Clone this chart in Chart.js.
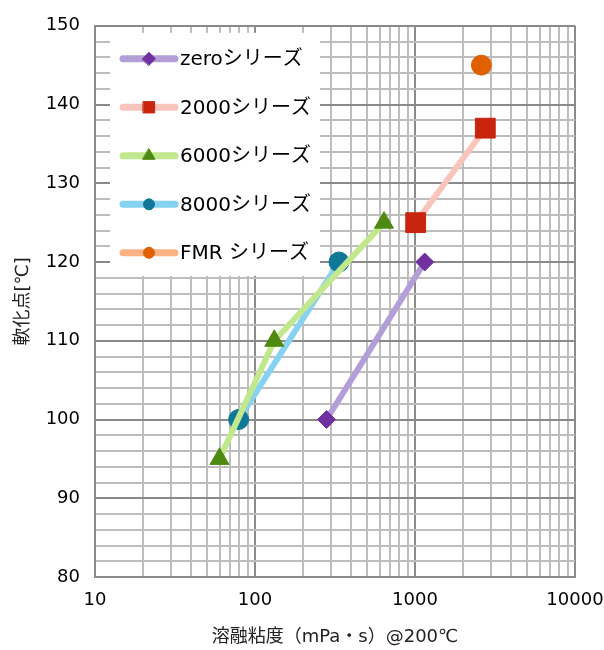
<!DOCTYPE html>
<html>
<head>
<meta charset="utf-8">
<script src="https://cdn.jsdelivr.net/npm/chart.js@4.4.1/dist/chart.umd.min.js"></script>
<style>
  html, body { margin: 0; padding: 0; background: #fff; }
</style>
</head>
<body>
<canvas id="graficoViscosidade" width="604" height="650"></canvas>
<script>
// ---- dados (viscosidade x ponto de amolecimento)

const nomesSeries = ['zeroシリーズ', '2000シリーズ', '6000シリーズ', '8000シリーズ', 'FMR シリーズ'];

const zeroX = [280, 1150];
const zeroY = [100, 120];

const s2000X = [1010, 2750];
const s2000Y = [125, 137];

const s6000X = [60, 132, 640];
const s6000Y = [95, 110, 125];

const s8000X = [79, 335];
const s8000Y = [100, 120];

const fmrX = [2600];
const fmrY = [145];

// ticks do eixo x (log) e rótulos que aparecem
const decadasX = [10, 100, 1000];
const rotulosX = [10, 100, 1000, 10000];

const fonte = "'DejaVu Sans', 'Noto Sans CJK JP', sans-serif";

function pontos(xs, ys) {
    return xs.map((x, i) => ({ x: x, y: ys[i] }));
}

// legenda desenhada dentro da área do gráfico
const legendaNoGrafico = {
    id: 'legendaNoGrafico',
    beforeDatasetsDraw(chart) {
        const ctx = chart.ctx;
        const area = chart.chartArea;
        ctx.save();
        ctx.fillStyle = '#ffffff';
        ctx.fillRect(area.left + 15, area.top + 7, 210, 243);
        chart.data.datasets.forEach((ds, i) => {
            const y = area.top + 33 + i * 48.5;
            const x0 = area.left + 28;
            const x1 = area.left + 80;
            ctx.strokeStyle = ds.borderColor;
            ctx.lineWidth = 7;
            ctx.lineCap = 'round';
            ctx.beginPath();
            ctx.moveTo(x0, y);
            ctx.lineTo(x1, y);
            ctx.stroke();
            ctx.lineWidth = 1;
            ctx.fillStyle = ds.pointBackgroundColor;
            ctx.strokeStyle = ds.pointBackgroundColor;
            Chart.helpers.drawPoint(ctx, {
                pointStyle: ds.pointStyle,
                radius: ds.legendRadius,
                rotation: 0,
                borderWidth: 1
            }, (x0 + x1) / 2, y);
            ctx.fillStyle = '#000000';
            ctx.font = '20px ' + fonte;
            ctx.textBaseline = 'middle';
            ctx.textAlign = 'left';
            ctx.fillText(nomesSeries[i], area.left + 85, y + 1);
        });
        ctx.restore();
    }
};

const ctg = document.getElementById('graficoViscosidade').getContext('2d');

let graficoViscosidade = new Chart(ctg, {
    type: 'line',
    data: {
        datasets: [
            {
                label: nomesSeries[0],
                data: pontos(zeroX, zeroY),
                borderColor: '#b49ed8',
                pointBackgroundColor: '#7030a0',
                pointBorderColor: '#7030a0',
                pointStyle: 'rectRot',
                pointRadius: 9,
                legendRadius: 6.5
            },
            {
                label: nomesSeries[1],
                data: pontos(s2000X, s2000Y),
                borderColor: '#f8c4bc',
                pointBackgroundColor: '#c8240e',
                pointBorderColor: '#c8240e',
                pointStyle: 'rect',
                pointRadius: 14,
                legendRadius: 8
            },
            {
                label: nomesSeries[2],
                data: pontos(s6000X, s6000Y),
                borderColor: '#c2e88e',
                pointBackgroundColor: '#4e8a12',
                pointBorderColor: '#4e8a12',
                pointStyle: 'triangle',
                pointRadius: 11,
                legendRadius: 7
            },
            {
                label: nomesSeries[3],
                data: pontos(s8000X, s8000Y),
                borderColor: '#86d2f0',
                pointBackgroundColor: '#0f7898',
                pointBorderColor: '#0f7898',
                pointStyle: 'circle',
                pointRadius: 10,
                legendRadius: 5.5
            },
            {
                label: nomesSeries[4],
                data: pontos(fmrX, fmrY),
                borderColor: '#fcb282',
                pointBackgroundColor: '#e06000',
                pointBorderColor: '#e06000',
                pointStyle: 'circle',
                pointRadius: 10,
                legendRadius: 5.5
            }
        ].map(ds => Object.assign(ds, {
            borderWidth: 6,
            borderCapStyle: 'round',
            borderJoinStyle: 'round',
            pointBorderWidth: 1,
            fill: false,
            tension: 0
        }))
    },
    plugins: [legendaNoGrafico],
    options: {
        responsive: false,
        animation: false,
        layout: {
            padding: { top: 18, right: 29, left: 0, bottom: 0 }
        },
        plugins: {
            legend: { display: false },
            tooltip: { enabled: false }
        },
        scales: {
            x: {
                type: 'logarithmic',
                min: 10,
                max: 10000,
                afterBuildTicks(scale) {
                    const valores = [];
                    decadasX.forEach(d => {
                        for (let m = 1; m <= 9; m++) valores.push(d * m);
                    });
                    valores.push(10000);
                    scale.ticks = valores.map(v => ({ value: v }));
                },
                afterFit(scale) {
                    scale.height = 73;
                    scale.paddingLeft = 0;
                    scale.paddingRight = 0;
                },
                grid: {
                    drawTicks: false,
                    color: (c) => rotulosX.includes(c.tick && c.tick.value) ? '#8a8a8a' : '#bdbdbd',
                    lineWidth: 2
                },
                border: { color: '#8a8a8a', width: 2 },
                ticks: {
                    autoSkip: false,
                    maxRotation: 0,
                    padding: 13,
                    color: '#000000',
                    font: { size: 18, family: fonte },
                    callback: (v) => rotulosX.includes(v) ? String(v) : ''
                },
                title: {
                    display: true,
                    text: '溶融粘度（mPa・s）@200℃',
                    color: '#222222',
                    font: { size: 18, family: fonte },
                    padding: { top: 0, bottom: 2 }
                }
            },
            y: {
                min: 80,
                max: 150,
                afterFit(scale) {
                    scale.width = 95;
                },
                grid: {
                    drawTicks: false,
                    color: (c) => (c.tick && c.tick.value % 10 === 0) ? '#8a8a8a' : '#bdbdbd',
                    lineWidth: 2
                },
                border: { color: '#8a8a8a', width: 2 },
                ticks: {
                    stepSize: 2,
                    autoSkip: false,
                    padding: 15,
                    color: '#000000',
                    font: { size: 18, family: fonte },
                    callback: (v) => v % 10 === 0 ? String(v) : ''
                },
                title: {
                    display: true,
                    text: '軟化点[℃]',
                    color: '#222222',
                    font: { size: 18, family: fonte },
                    padding: { top: 13, bottom: 0 }
                }
            }
        }
    }
});
</script>
</body>
</html>
